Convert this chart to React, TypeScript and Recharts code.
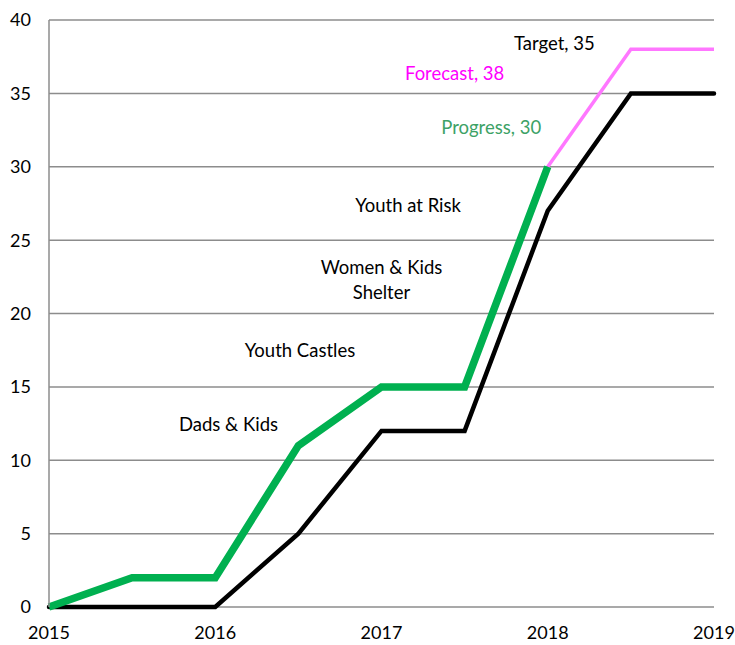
import React from 'react';
import { LineChart, Line, XAxis, YAxis, CartesianGrid, ReferenceDot } from 'recharts';

const years = [2015, 2015.5, 2016, 2016.5, 2017, 2017.5, 2018, 2018.5, 2019];
const progress: (number | null)[] = [0, 2, 2, 11, 15, 15, 30, null, null];
const target: (number | null)[] = [0, 0, 0, 5, 12, 12, 27, 35, 35];
const forecast: (number | null)[] = [null, null, null, null, null, null, 30, 38, 38];

const xTicks = [2015, 2016, 2017, 2018, 2019];
const yTicks = [0, 5, 10, 15, 20, 25, 30, 35, 40];

const annotationText = ['Target, 35', 'Forecast, 38', 'Progress, 30', 'Youth at Risk', 'Women & Kids|Shelter', 'Youth Castles', 'Dads & Kids'];
const annotationX = [2018.04, 2017.44, 2017.66, 2017.16, 2017.0, 2016.51, 2016.08];
const annotationY = [38.4, 36.4, 32.7, 27.4, 22.3, 17.5, 12.5];
const annotationColor = ['#000000', '#FF00FF', '#3DA266', '#000000', '#000000', '#000000', '#000000'];

const data = years.map((y, i) => ({
  year: y,
  progress: progress[i],
  target: target[i],
  forecast: forecast[i],
}));

const FONT = 'Lato, "Open Sans", sans-serif';

const makeLabel = (text: string, color: string) => (props: any) => {
  const vb = props.viewBox || {};
  const cx = (vb.x ?? 0) + (vb.width ?? 0) / 2;
  const cy = (vb.y ?? 0) + (vb.height ?? 0) / 2;
  const lines = text.split('|');
  const lh = 25;
  const start = cy - ((lines.length - 1) * lh) / 2;
  return (
    <text x={cx} y={start} textAnchor="middle" dominantBaseline="central" fill={color} fontSize={18.5} fontFamily={FONT}>
      {lines.map((l, i) => (
        <tspan key={i} x={cx} y={start + i * lh}>{l}</tspan>
      ))}
    </text>
  );
};

export default function App() {
  return (
    <div style={{ position: 'absolute', left: 0, top: 0 }}>
      <LineChart width={735} height={645} data={data} margin={{ top: 20, right: 21, bottom: 8, left: 9 }}>
        <CartesianGrid vertical={false} stroke="#8c8c8c" strokeWidth={1.5} />
        <XAxis
          dataKey="year"
          type="number"
          domain={[2015, 2019]}
          ticks={xTicks}
          axisLine={false}
          tickLine={false}
          tickSize={0}
          tickMargin={19}
          height={30}
          tick={{ fill: '#000', fontSize: 18, fontFamily: FONT }}
        />
        <YAxis
          type="number"
          domain={[0, 40]}
          ticks={yTicks}
          width={40}
          axisLine={{ stroke: '#8c8c8c', strokeWidth: 1.5 }}
          tickLine={false}
          tickSize={0}
          tickMargin={18}
          tick={{ fill: '#000', fontSize: 18, fontFamily: FONT }}
        />
        <Line dataKey="forecast" stroke="#FF77FF" strokeWidth={3.5} dot={false} isAnimationActive={false} connectNulls={false} />
        <Line dataKey="target" stroke="#000000" strokeWidth={4.5} dot={false} isAnimationActive={false} strokeLinecap="round" />
        <Line dataKey="progress" stroke="#00B050" strokeWidth={7.5} dot={false} isAnimationActive={false} connectNulls={false} />
        {annotationText.map((t, i) => (
          <ReferenceDot
            key={t}
            x={annotationX[i]}
            y={annotationY[i]}
            r={0}
            fill="none"
            stroke="none"
            ifOverflow="visible"
            label={makeLabel(t, annotationColor[i])}
          />
        ))}
      </LineChart>
    </div>
  );
}
